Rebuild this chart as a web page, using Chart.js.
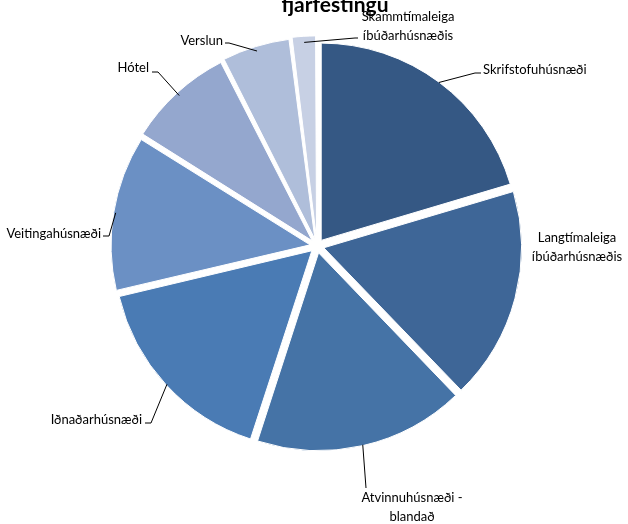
<!DOCTYPE html>
<html>
<head>
<meta charset="utf-8">
<script src="https://cdn.jsdelivr.net/npm/chart.js@4.4.0/dist/chart.umd.min.js"></script>
<style>
  body { margin: 0; background: #fff; }
  #wrap { width: 628px; height: 524px; }
</style>
</head>
<body>
<div id="wrap"><canvas id="pieChart" width="628" height="524"></canvas></div>
<script>
// Slices, clockwise from 12 o'clock
const categories = [
    'Skrifstofuhúsnæði',
    'Langtímaleiga íbúðarhúsnæðis',
    'Atvinnuhúsnæði - blandað',
    'Iðnaðarhúsnæði',
    'Veitingahúsnæði',
    'Hótel',
    'Verslun',
    'Skammtímaleiga íbúðarhúsnæðis'
];
const shares = [20.4, 17.4, 17.2, 16.3, 12.6, 8.6, 5.5, 2.0];
const sliceColors = ['#355884', '#3e6697', '#4573a6', '#4a7bb4', '#6b90c4', '#94a7ce', '#afbeda', '#c7d0e4'];

// label placement (text lines, text anchor, leader elbow/end)
const labelLayout = [
    { lines: ['Skrifstofuhúsnæði'], x: 483, y: 70, align: 'left', elbow: [475, 73], end: [481, 73] },
    { lines: ['Langtímaleiga', 'íbúðarhúsnæðis'], x: 577, y: 238, align: 'center' },
    { lines: ['Atvinnuhúsnæði -', 'blandað'], x: 412, y: 498, align: 'center', elbow: [366, 488], end: [366, 488] },
    { lines: ['Iðnaðarhúsnæði'], x: 142, y: 420, align: 'right', elbow: [151, 423], end: [145, 423] },
    { lines: ['Veitingahúsnæði'], x: 101, y: 234, align: 'right', elbow: [109, 236], end: [103, 236] },
    { lines: ['Hótel'], x: 149, y: 68, align: 'right', elbow: [158, 72], end: [152, 72] },
    { lines: ['Verslun'], x: 223, y: 41, align: 'right', elbow: [229, 43], end: [225, 43] },
    { lines: ['Skammtímaleiga', 'íbúðarhúsnæðis'], x: 408, y: 17, align: 'center', elbow: [355, 38], end: [358, 38] }
];

const labelFont = "13px Lato, 'Open Sans', sans-serif";

const pieLabels = {
    id: 'pieLabels',
    afterDatasetsDraw(chart) {
        const ctx = chart.ctx;
        const meta = chart.getDatasetMeta(0);
        const shift = chart.data.datasets[0].offset / 4;
        ctx.save();
        ctx.strokeStyle = '#000';
        ctx.lineWidth = 1;
        ctx.fillStyle = '#000';
        ctx.font = labelFont;
        ctx.textBaseline = 'middle';
        meta.data.forEach((arc, i) => {
            const p = arc.getProps(['x', 'y', 'startAngle', 'endAngle', 'outerRadius'], true);
            const mid = (p.startAngle + p.endAngle) / 2;
            const ax = p.x + Math.cos(mid) * (p.outerRadius + shift);
            const ay = p.y + Math.sin(mid) * (p.outerRadius + shift);
            const lab = labelLayout[i];
            if (lab.elbow) {
                ctx.beginPath();
                ctx.moveTo(ax, ay);
                ctx.lineTo(lab.elbow[0], lab.elbow[1]);
                ctx.lineTo(lab.end[0], lab.end[1]);
                ctx.stroke();
            }
            ctx.textAlign = lab.align;
            lab.lines.forEach((line, k) => {
                ctx.fillText(line, lab.x, lab.y + k * 19);
            });
        });

        // title, its upper line falls outside the picture
        ctx.font = "bold 21px Lato, 'Open Sans', sans-serif";
        ctx.textAlign = 'center';
        ctx.textBaseline = 'alphabetic';
        ctx.fillText('fjárfestingu', 335, 12);
        ctx.restore();
    }
};

document.addEventListener('DOMContentLoaded', function() {
    const ctx = document.getElementById('pieChart').getContext('2d');
    new Chart(ctx, {
        type: 'pie',
        data: {
            labels: categories,
            datasets: [{
                data: shares,
                backgroundColor: sliceColors,
                borderColor: '#ffffff',
                borderWidth: 1,
                offset: 28
            }]
        },
        options: {
            responsive: false,
            animation: false,
            radius: 197,
            layout: {
                padding: { top: 30, bottom: 62, left: 20, right: 14 }
            },
            plugins: {
                legend: { display: false },
                tooltip: { enabled: false }
            }
        },
        plugins: [pieLabels]
    });
});
</script>
</body>
</html>
